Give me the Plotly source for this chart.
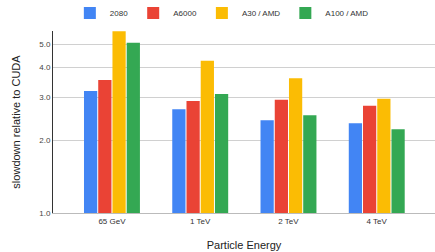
import plotly.graph_objects as go

categories = ["65 GeV", "1 TeV", "2 TeV", "4 TeV"]
series_names = ["2080", "A6000", "A30 / AMD", "A100 / AMD"]
v_2080 = [3.20, 2.69, 2.42, 2.35]
v_a6000 = [3.55, 2.91, 2.94, 2.78]
v_a30 = [5.65, 4.26, 3.61, 2.97]
v_a100 = [5.06, 3.11, 2.54, 2.22]
colors = ["#4285F4", "#EA4335", "#FBBC04", "#34A853"]
y_tick_vals = [1, 2, 3, 4, 5]
y_tick_text = ["1.0", "2.0", "3.0", "4.0", "5.0"]

font = "Liberation Sans, Arial, sans-serif"
fig = go.Figure()
for name, vals, c in zip(series_names, [v_2080, v_a6000, v_a30, v_a100], colors):
    fig.add_trace(go.Bar(name=name, x=categories, y=vals, marker_color=c,
                         marker_line_width=0))

fig.update_layout(
    width=435, height=252,
    margin=dict(l=53, r=0, t=31, b=39, autoexpand=False),
    paper_bgcolor="white", plot_bgcolor="white",
    font=dict(family=font, size=8, color="#444"),
    barmode="group", bargap=0.355, bargroupgap=0.07,
    legend=dict(orientation="h", x=0.51, xref="container", xanchor="center",
                y=1 - 13 / 252, yref="container", yanchor="middle",
                font=dict(size=8, color="#333"), itemwidth=30,
                traceorder="normal", tracegroupgap=0),
    showlegend=True,
)
fig.update_xaxes(
    range=[-0.668, 3.66], showgrid=False, showline=True, linecolor="#bbb",
    linewidth=1, ticks="", tickfont=dict(size=8, color="#333"),
    title=dict(text="Particle Energy", font=dict(size=11, color="#222"), standoff=16),
)
fig.update_yaxes(
    type="log", range=[0, 0.753], tickvals=y_tick_vals, ticktext=y_tick_text,
    showgrid=True, gridcolor="#d0d0d0", gridwidth=1,
    showline=True, linecolor="#333", linewidth=1, ticks="",
    tickfont=dict(size=8, color="#444"),
    title=dict(text="slowdown relative to CUDA", font=dict(size=11, color="#222"), standoff=16),
)
fig.write_html("out.html", config={"displayModeBar": False},
               post_script="document.body.style.margin='0';")
